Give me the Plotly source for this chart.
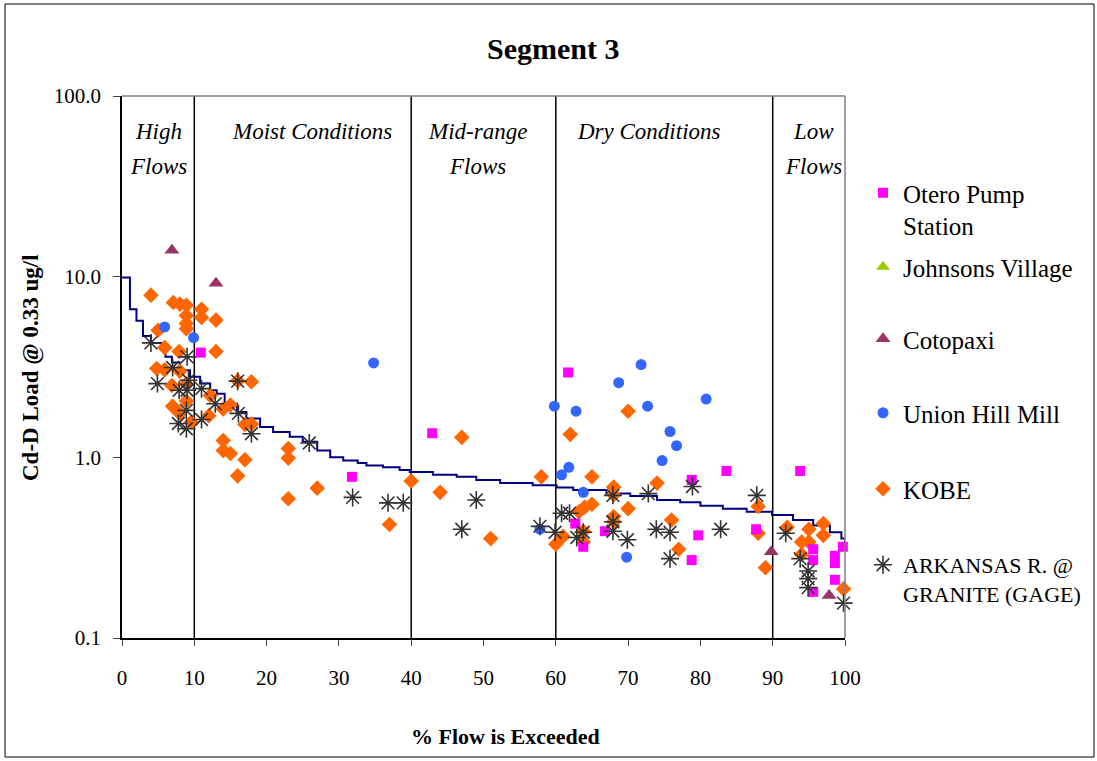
import plotly.graph_objects as go

# Load duration curve (step curve): % of time flow exceeded vs Cd-D load
curve_pct = [0, 1.1, 2.0, 2.9, 4.0, 5.7, 6.0, 6.9, 8.0, 9.4, 10.8, 12.2, 13.1, 14.2,
             15.9, 17.2, 19.1, 20.9, 23.2, 25.0, 27.0, 28.8, 30.6, 32.6, 33.8, 36.1,
             38.4, 39.8, 43.0, 46.3, 49.0, 52.3, 56.8, 60.1, 62.4, 67.0, 70.3, 74.0,
             77.2, 80.0, 83.1, 86.4, 89.9, 92.8, 95.6, 97.9, 99.5, 100]
curve_load = [9.9, 6.6, 5.7, 4.7, 4.3, 4.05, 3.6, 3.35, 3.03, 2.79, 2.56, 2.35, 2.25, 1.98,
              1.78, 1.64, 1.47, 1.38, 1.30, 1.22, 1.09, 1.0, 0.96, 0.93, 0.90, 0.88,
              0.85, 0.83, 0.80, 0.78, 0.75, 0.72, 0.70, 0.68, 0.66, 0.63, 0.61, 0.58,
              0.565, 0.54, 0.52, 0.50, 0.48, 0.45, 0.42, 0.385, 0.355, 0.34]

# Monitoring stations
otero_x = [10.9, 31.8, 42.9, 61.7, 62.7, 63.8, 66.8, 78.8, 79.7, 78.8, 83.6, 87.7, 93.8,
           95.6, 95.6, 95.6, 98.6, 98.6, 98.6, 99.7]
otero_y = [3.8, 0.78, 1.36, 2.95, 0.43, 0.32, 0.39, 0.75, 0.37, 0.27, 0.84, 0.40, 0.84,
           0.31, 0.27, 0.18, 0.285, 0.26, 0.21, 0.32]

johnsons_x = [None]
johnsons_y = [None]

cotopaxi_x = [6.9, 13.0, 89.8, 97.8]
cotopaxi_y = [14.0, 9.2, 0.30, 0.172]

union_x = [5.9, 9.9, 34.8, 57.8, 59.8, 60.8, 61.8, 62.8, 63.8, 68.7, 69.8, 71.8, 72.7,
           74.7, 75.8, 76.7, 80.8]
union_y = [5.27, 4.6, 3.33, 0.40, 1.92, 0.80, 0.88, 1.8, 0.64, 2.59, 0.28, 3.26, 1.92,
           0.96, 1.39, 1.16, 2.1]

kobe_x = [4.0, 7.1, 8.0, 8.9, 11.0, 8.9, 11.0, 13.0, 8.9, 8.9, 5.0, 5.9, 7.9, 13.0,
          4.8, 5.9, 8.0, 6.9, 8.9, 16.0, 17.9, 7.0, 8.0, 8.9, 12.2, 14.0, 15.0, 9.6,
          12.0, 17.0, 17.9, 14.0, 14.0, 15.0, 17.0, 16.0, 23.0, 23.0, 23.0, 27.0,
          37.0, 40.0, 44.0, 47.0, 51.0, 58.0, 60.0, 62.0, 70.0, 65.0, 68.0, 68.0,
          74.0, 70.0, 65.0, 64.0, 63.2, 68.0, 68.0, 61.0, 63.8, 63.8, 76.0, 77.0,
          88.0, 88.0, 89.0, 92.0, 95.0, 94.0, 95.0, 94.0, 97.0, 97.0, 99.8]
kobe_y = [7.9, 7.2, 7.05, 6.95, 6.6, 6.1, 5.95, 5.75, 5.5, 5.15, 5.05, 4.05, 3.85, 3.85,
          3.1, 3.05, 3.0, 2.5, 2.55, 2.65, 2.62, 1.92, 1.75, 2.05, 2.2, 1.85, 1.95, 1.57,
          1.7, 1.52, 1.53, 1.24, 1.09, 1.05, 0.97, 0.79, 1.12, 0.99, 0.59, 0.675,
          0.425, 0.74, 0.64, 1.29, 0.355, 0.78, 0.33, 1.34, 1.8, 0.78, 0.685, 0.62,
          0.72, 0.52, 0.55, 0.53, 0.50, 0.47, 0.44, 0.365, 0.39, 0.34, 0.45, 0.31,
          0.535, 0.38, 0.245, 0.41, 0.40, 0.34, 0.34, 0.29, 0.43, 0.37, 0.187]

ark_x = [4.0, 9.0, 7.0, 4.9, 9.2, 7.9, 9.0, 11.0, 16.0, 12.9, 8.9, 16.1, 11.0, 7.8, 8.9,
         17.9, 25.9, 31.9, 36.8, 38.9, 49.0, 47.0, 57.8, 59.9, 60.8, 61.9, 62.9, 63.8,
         67.9, 67.9, 67.9, 69.9, 72.8, 73.9, 75.8, 75.8, 78.9, 82.8, 87.8, 91.8, 93.8,
         94.9, 94.9, 94.9, 99.8]
ark_y = [4.3, 3.6, 3.14, 2.56, 2.67, 2.35, 2.35, 2.4, 2.64, 1.98, 1.82, 1.75, 1.62, 1.54,
         1.44, 1.35, 1.2, 0.60, 0.56, 0.56, 0.58, 0.40, 0.415, 0.385, 0.49, 0.49, 0.36,
         0.385, 0.616, 0.44, 0.39, 0.35, 0.63, 0.40, 0.385, 0.275, 0.69, 0.40, 0.616,
         0.38, 0.275, 0.235, 0.213, 0.19, 0.156]

# Flow regime boundaries and zone labels
zone_bounds = [10, 40, 60, 90]
zone_labels = [(5.0, ["High", "Flows"]), (26.3, ["Moist Conditions"]),
               (49.2, ["Mid-range", "Flows"]), (72.9, ["Dry Conditions"]),
               (95.6, ["Low", "Flows"])]

x_ticks = [0, 10, 20, 30, 40, 50, 60, 70, 80, 90, 100]
y_tickvals = [0.1, 1, 10, 100]
y_ticktext = ["0.1", "1.0", "10.0", "100.0"]

FONT = "Liberation Serif"
W, H = 1097, 761
L, R, T, B = 122, 252, 96, 123
PW, PH = W - L - R, H - T - B


def px_x(p):
    return (p - L) / PW


def px_y(p):
    return (H - B - p) / PH


fig = go.Figure()

fig.add_trace(go.Scatter(x=curve_pct, y=curve_load, mode="lines", line_shape="hv",
                         line=dict(color="#000080", width=2), showlegend=False,
                         hoverinfo="skip"))

series = [
    ("Otero Pump<br>Station", otero_x, otero_y,
     dict(symbol="square", size=10, color="#FF00FF")),
    ("Johnsons Village", johnsons_x, johnsons_y,
     dict(symbol="triangle-up", size=12, color="#99CC00")),
    ("Cotopaxi", cotopaxi_x, cotopaxi_y,
     dict(symbol="triangle-up", size=13, color="#993366")),
    ("Union Hill Mill", union_x, union_y,
     dict(symbol="circle", size=11, color="#3366FF")),
    ("KOBE", kobe_x, kobe_y,
     dict(symbol="diamond", size=12, color="#FF6600")),
    ("ARKANSAS R. @<br>GRANITE (GAGE)", ark_x, ark_y,
     dict(symbol="asterisk-open", size=15, color="#333333",
          line=dict(color="#333333", width=1.6))),
]

legend_rows = [196, 270, 342, 416, 492, 567]
legend_sizes = [25, 25, 25, 25, 25, 22]
draw_order = [4, 3, 0, 2, 1, 5]
for i in draw_order:
    name, xs, ys, mk = series[i]
    key = "legend" if i == 0 else f"legend{i + 1}"
    fig.add_trace(go.Scatter(x=xs, y=ys, mode="markers", name=name, marker=mk,
                             legend=key, showlegend=True, cliponaxis=False))

for i in range(len(series)):
    key = "legend" if i == 0 else f"legend{i + 1}"
    fs = legend_sizes[i]
    fig.update_layout({key: dict(x=px_x(863), y=px_y(legend_rows[i] - 26 + (25 - fs)),
                                 xanchor="left", yanchor="top", valign="top",
                                 bgcolor="rgba(0,0,0,0)", itemwidth=30,
                                 font=dict(family=FONT, size=fs, color="black"))})

for b in zone_bounds:
    fig.add_shape(type="line", x0=b, x1=b, y0=0, y1=1, xref="x", yref="paper",
                  line=dict(color="black", width=1.5), layer="below")

# plot frame: top and right edges
fig.add_shape(type="line", x0=0, x1=1, y0=1, y1=1, xref="paper", yref="paper",
              line=dict(color="#808080", width=1.5))
fig.add_shape(type="line", x0=1, x1=1, y0=0, y1=1, xref="paper", yref="paper",
              line=dict(color="#808080", width=1.5))
# outer chart border
fig.add_shape(type="rect", x0=px_x(5), x1=px_x(1094), y0=px_y(4), y1=px_y(757),
              xref="paper", yref="paper", line=dict(color="black", width=1))

for xc, lines in zone_labels:
    for k, txt in enumerate(lines):
        fig.add_annotation(x=xc, y=px_y(131 + 35 * k), xref="x", yref="paper",
                           xanchor="center", yanchor="middle",
                           text=f"<i>{txt}</i>", showarrow=False,
                           font=dict(family=FONT, size=23, color="black"))

fig.add_annotation(x=px_x(553), y=px_y(49), xref="paper", yref="paper",
                   xanchor="center", yanchor="middle",
                   text="<b>Segment 3</b>", showarrow=False,
                   font=dict(family=FONT, size=30, color="black"))
fig.add_annotation(x=px_x(505), y=px_y(736), xref="paper", yref="paper",
                   xanchor="center", yanchor="middle",
                   text="<b>% Flow is Exceeded</b>", showarrow=False,
                   font=dict(family=FONT, size=22, color="black"))
fig.add_annotation(x=px_x(31), y=px_y(368), xref="paper", yref="paper",
                   xanchor="center", yanchor="middle",
                   text="<b>Cd-D Load @ 0.33 ug/l</b>", showarrow=False, textangle=-90,
                   font=dict(family=FONT, size=23, color="black"))

fig.update_xaxes(range=[0, 100], tickvals=x_ticks, ticks="outside", ticklen=6,
                 tickcolor="#444", showline=True, linecolor="black", linewidth=1.5,
                 showgrid=False, zeroline=False, ticklabelstandoff=14,
                 tickfont=dict(family=FONT, size=21, color="black"))
fig.update_yaxes(type="log", range=[-1, 2], tickvals=y_tickvals, ticktext=y_ticktext,
                 ticks="outside", ticklen=7, tickcolor="#444", showline=True,
                 linecolor="black", linewidth=1.5, showgrid=False, zeroline=False,
                 ticklabelstandoff=8,
                 tickfont=dict(family=FONT, size=21, color="black"))

fig.update_layout(width=W, height=H,
                  margin=dict(l=L, r=R, t=T, b=B, autoexpand=False),
                  showlegend=True,
                  paper_bgcolor="white", plot_bgcolor="white",
                  font=dict(family=FONT, color="black"))

fig.write_html("out.html")
